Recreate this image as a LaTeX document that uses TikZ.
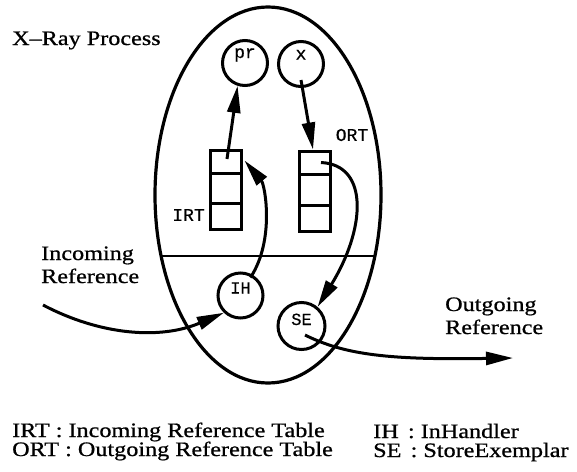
\documentclass[tikz,border=0pt]{standalone}
\usepackage{fontspec}
\setmainfont{Liberation Serif}[FakeStretch=1.18,FakeBold=0.8]
\newfontfamily\monof{Liberation Mono}[FakeBold=0.6]
\usetikzlibrary{arrows.meta,shapes.geometric}
\tikzset{
  lbl/.style={font=\fontsize{20.5}{23}\selectfont, inner sep=0pt, anchor=base west},
  circ/.style={circle, draw, line width=3pt, minimum size=45pt, inner sep=0pt,
    font=\monof\fontsize{17}{17}\selectfont},
  cell/.style={rectangle, draw, line width=3pt, minimum width=31pt, inner sep=0pt},
  arr/.style={line width=3pt, -{Triangle[length=27pt,width=13pt]}},
  tlabel/.style={font=\monof\fontsize{18}{18}\selectfont, inner sep=0pt},
}
\begin{document}
\begin{tikzpicture}[x=1pt,y=-1pt]
\useasboundingbox (0,0) rectangle (577,471);
% process ellipse and partition line
\draw[line width=3.2pt] (268,195) ellipse [x radius=113pt, y radius=188pt];
\begin{scope}
  \clip (268,195) ellipse [x radius=113pt, y radius=188pt];
  \draw[line width=2.8pt] (140,256) -- (400,256);
\end{scope}
% circles
\node[circ, font=\monof\fontsize{18}{18}\selectfont, text height=2pt, text depth=12pt] (pr) at (245,63) {pr};
\node[circ, font=\monof\fontsize{18}{18}\selectfont, text height=2pt, text depth=11pt] (x) at (301,64) {x};
\node[circ, text height=10pt, text depth=14pt] (IH) at (240.5,295.5) {IH};
\node[circ, minimum size=47pt, text height=10pt, text depth=12pt] (SE) at (301.5,326) {SE};
% tables
\node[cell, minimum height=23pt] (irt1) at (225.5,161.5) {};
\node[cell, minimum height=30pt] (irt2) at (225.5,188) {};
\node[cell, minimum height=26pt] (irt3) at (225.5,216) {};
\node[cell, minimum height=23pt] (ort1) at (314.5,162.5) {};
\node[cell, minimum height=31pt] (ort2) at (314.5,189.5) {};
\node[cell, minimum height=26pt] (ort3) at (314.5,218) {};
\node[tlabel] (irtl) at (188.5,215) {IRT};
\node[tlabel] (ortl) at (352,135) {ORT};
% connectors
\draw[arr] ([xshift=1.5pt,yshift=2.5pt]irt1.center) -- (pr.252);
\draw[arr] ([yshift=-16pt]x.center) -- ([xshift=-1.5pt]ort1.north);
\draw[arr] ([xshift=10pt,yshift=18pt]IH.center) .. controls (275,240) and (265,185) .. ([xshift=2pt,yshift=1pt]irt1.east);
\draw[arr] ([xshift=6.5pt]ort1.center) .. controls (370,165) and (365,230) .. (SE.50);
\coordinate (inS) at (43,305);
\draw[arr] (inS) .. controls (100,335) and (160,340) .. (IH.226);
\coordinate (outE) at (513,358);
\draw[arr] ([xshift=3.5pt,yshift=-9pt]SE.center) .. controls (345,355) and (390,360) .. (outE);
% texts
\node[lbl] (title) at (12,45) {X–Ray Process};
\node[lbl] (in1) at (41,260) {Incoming};
\node[lbl] (in2) at (41,283) {Reference};
\node[lbl] (out1) at (445,311) {Outgoing};
\node[lbl] (out2) at (445,334) {Reference};
\node[lbl] (leg1) at (12,437) {IRT : Incoming Reference Table};
\node[lbl] (leg2) at (12,456) {ORT : Outgoing Reference Table};
\node[lbl] (leg3) at (373,438) {IH\hspace{0.45em}: InHandler};
\node[lbl] (leg4) at (373,457) {SE\hspace{0.45em}: StoreExemplar};
\end{tikzpicture}
\end{document}
